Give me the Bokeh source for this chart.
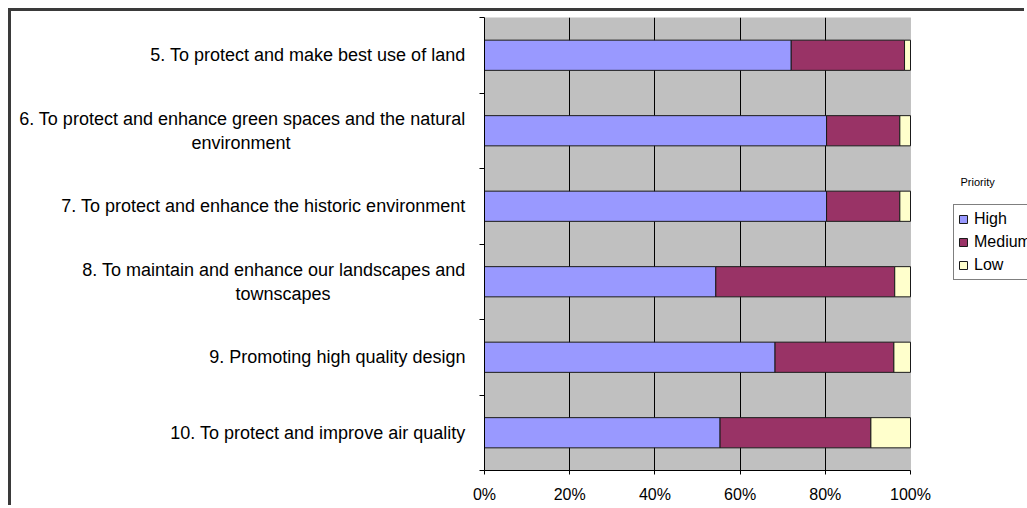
from bokeh.plotting import figure
from bokeh.models import (Range1d, FixedTicker, PrintfTickFormatter, Legend, LegendItem, Label,
                          BoxAnnotation)
from bokeh.embed import file_html
from bokeh.resources import INLINE
import numpy as np

categories = [
    "5. To protect and make best use of land",
    "6. To protect and enhance green spaces and the natural\nenvironment" + "\u00a0" * 35,
    "7. To protect and enhance the historic environment",
    "8. To maintain and enhance our landscapes and\ntownscapes" + "\u00a0" * 27,
    "9. Promoting high quality design",
    "10. To protect and improve air quality",
]
high = [72.0, 80.3, 80.3, 54.3, 68.2, 55.3]
medium = [26.6, 17.2, 17.2, 42.0, 27.9, 35.4]
low = [1.4, 2.5, 2.5, 3.7, 3.9, 9.3]
series_names = ["High", "Medium", "Low"]
series_colors = ["#9999FF", "#993366", "#FFFFCC"]
x_ticks = [0, 20, 40, 60, 80, 100]

n = len(categories)
ypos = [n - i - 0.5 for i in range(n)]
boundaries = list(range(n + 1))
xmin, xmax = x_ticks[0], x_ticks[-1]

FONT = "Liberation Sans"
W, H = 1016, 497
LEFT = 473
PLOT_W = 426  # pixel width of 0..100%
x_end = xmax * (W - LEFT) / PLOT_W  # extend range so the legend area lies in the frame

p = figure(width=W, height=H, output_backend="svg", toolbar_location=None,
           x_range=Range1d(xmin, x_end), y_range=Range1d(0, n),
           min_border_left=LEFT, min_border_top=6, min_border_bottom=38, min_border_right=0)
p.styles = {"margin-left": "8px", "margin-top": "8px",
            "border-left": "3px solid #3a3a3a", "border-top": "3px solid #3a3a3a"}
p.background_fill_color = "white"
p.border_fill_color = "white"
p.outline_line_color = None

# grey plot area
p.add_layout(BoxAnnotation(left=xmin, right=xmax, bottom=0, top=n, level="image",
                           fill_color="#C0C0C0", fill_alpha=1,
                           line_color="#808080", line_width=1))

vals = np.array([high, medium, low])
rights = np.cumsum(vals, axis=0)
lefts = np.vstack([np.zeros(n), rights[:-1]])
renderers = []
for k in range(3):
    r = p.hbar(y=ypos, left=lefts[k], right=rights[k], height=0.4,
               fill_color=series_colors[k], line_color="#1a1a1a", line_width=1)
    renderers.append(r)

# x axis
xa = p.xaxis[0]
xa.ticker = FixedTicker(ticks=x_ticks)
xa.bounds = (xmin, xmax)
xa.formatter = PrintfTickFormatter(format="%d%%")
xa.axis_line_color = "black"
xa.major_tick_line_color = "black"
xa.major_tick_in = 0
xa.major_tick_out = 4
xa.minor_tick_line_color = None
xa.major_label_text_font = FONT
xa.major_label_text_font_size = "16px"
xa.major_label_text_color = "black"
xa.major_label_standoff = 11

# y axis
ya = p.yaxis[0]
ya.ticker = FixedTicker(ticks=ypos, minor_ticks=boundaries)
ya.major_label_overrides = {y: c for y, c in zip(ypos, categories)}
ya.axis_line_color = "black"
ya.major_tick_line_color = None
ya.major_tick_in = 0
ya.major_tick_out = 0
ya.minor_tick_line_color = "black"
ya.minor_tick_in = 0
ya.minor_tick_out = 5
ya.major_label_text_font = FONT
ya.major_label_text_font_size = "18px"
ya.major_label_text_color = "black"
ya.major_label_standoff = 14

p.xgrid.ticker = FixedTicker(ticks=x_ticks[1:-1])
p.xgrid.grid_line_color = "black"
p.xgrid.grid_line_width = 1
p.ygrid.grid_line_color = None

legend = Legend(items=[LegendItem(label=s, renderers=[r]) for s, r in zip(series_names, renderers)],
                location=(469, 190), orientation="vertical")
legend.label_text_font = FONT
legend.label_text_font_size = "16px"
legend.label_text_color = "black"
legend.glyph_width = 10
legend.glyph_height = 10
legend.label_height = 20
legend.label_standoff = 6
legend.spacing = 3
legend.padding = 4
legend.margin = 0
legend.border_line_color = "black"
legend.border_line_width = 1
legend.background_fill_color = "white"
legend.background_fill_alpha = 1
p.add_layout(legend, "center")

p.add_layout(Label(x=946, y=167, x_units="canvas", y_units="canvas", text="Priority",
                   text_font=FONT, text_font_size="11px", text_color="black",
                   text_baseline="middle"))

open("out.html", "w").write(file_html(p, INLINE))
